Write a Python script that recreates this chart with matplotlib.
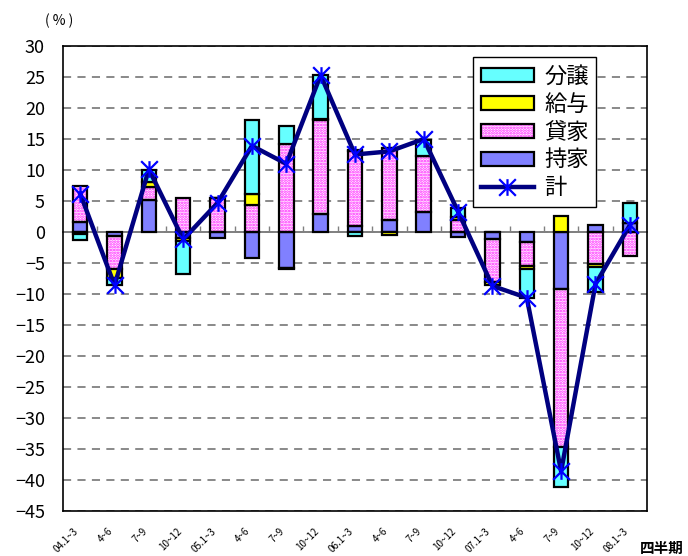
import numpy as np
import matplotlib
matplotlib.use('Agg')
import matplotlib.pyplot as plt
import matplotlib.patches as mpatches
from matplotlib.lines import Line2D
from matplotlib.path import Path
from matplotlib.transforms import offset_copy, blended_transform_factory

plt.rcParams['font.family'] = ['Noto Sans CJK JP', 'DejaVu Sans']
plt.rcParams['hatch.linewidth'] = 1.3

quarters = ["04.1~3", "4~6", "7~9", "10~12",
            "05.1~3", "4~6", "7~9", "10~12",
            "06.1~3", "4~6", "7~9", "10~12",
            "07.1~3", "4~6", "7~9", "10~12",
            "08.1~3"]
mochiie = [1.6, -0.6, 5.2, -0.9, -0.9, -4.2, -5.8, 2.9, 1.0, 2.0, 3.3, -0.8, -1.1, -1.6, -9.2, 1.2, 1.4]
kashiya = [5.8, -5.4, 2.0, 5.5, 5.5, 4.4, 14.2, 15.1, 12.1, 11.5, 8.9, 2.0, -7.0, -3.9, -25.4, -5.1, -3.9]
kyuyo = [-0.3, -1.5, 0.8, -0.6, 0.0, 1.7, -0.2, 0.2, 0.1, -0.5, 0.0, 0.4, -0.4, -0.5, 2.6, -0.5, 0.1]
bunjo = [-1.0, -1.1, 2.0, -5.2, 0.0, 12.0, 2.9, 7.1, -0.6, 0.0, 2.7, 1.5, 0.0, -4.6, -6.5, -4.1, 3.2]
total = [6.2, -8.6, 10.1, -1.2, 4.7, 13.9, 11.0, 25.3, 12.5, 13.0, 15.0, 3.3, -8.7, -10.6, -38.6, -8.4, 1.1]
yticks = list(range(-45, 31, 5))

fig = plt.figure(figsize=(6.88, 5.56), dpi=100)
ax = fig.add_axes([63/688, 1-511/556, 584/688, 465/556])
ax.set_xlim(-0.5, len(quarters) - 0.5)
ax.set_ylim(-45, 30)

x = np.arange(len(quarters))
width = 0.42
edge_lw = 1.6

series = [
    (mochiie, '持家', '#8080FF', None),
    (kashiya, '貸家', '#FFF4FF', '......'),
    (kyuyo, '給与', '#FFFF00', None),
    (bunjo, '分譲', '#66FFFF', None),
]
pos_base = np.zeros(len(x))
neg_base = np.zeros(len(x))
legend_handles = {}
for vals, name, color, hatch in series:
    v = np.array(vals, dtype=float)
    bottom = np.where(v >= 0, pos_base, neg_base)
    if hatch:
        ax.bar(x, v, width, bottom=bottom, color=color, edgecolor='#FF22FF',
               hatch=hatch, linewidth=0, zorder=2)
        ax.bar(x, v, width, bottom=bottom, fill=False, edgecolor='black',
               linewidth=edge_lw, zorder=3)
        h1 = mpatches.Patch(facecolor=color, edgecolor='#FF22FF', hatch=hatch, linewidth=0)
        h2 = mpatches.Patch(fill=False, edgecolor='black', linewidth=edge_lw)
        legend_handles[name] = (h1, h2)
    else:
        ax.bar(x, v, width, bottom=bottom, color=color, edgecolor='black',
               linewidth=edge_lw, zorder=3)
        legend_handles[name] = mpatches.Patch(facecolor=color, edgecolor='black', linewidth=edge_lw)
    pos_base += np.where(v > 0, v, 0)
    neg_base += np.where(v < 0, v, 0)

star = Path([(0, -1), (0, 1), (-1, -1), (1, 1), (-1, 1), (1, -1)],
            [Path.MOVETO, Path.LINETO, Path.MOVETO, Path.LINETO, Path.MOVETO, Path.LINETO])
ax.plot(x, total, color='#000080', lw=3.2, marker=star, markersize=12,
        markeredgecolor='#0000FF', markeredgewidth=1.6, zorder=5, clip_on=False)
legend_handles['計'] = Line2D([], [], color='#000080', lw=3.2, marker=star, markersize=12,
                             markeredgecolor='#0000FF', markeredgewidth=1.6)

# grid
ax.set_yticks(yticks)
ax.yaxis.grid(True, linestyle=(0, (4.5, 3.5)), color='#808080', lw=1.3)
ax.set_axisbelow(True)
ax.tick_params(axis='y', length=0, pad=13, labelsize=13)
ax.set_xticks([])
for s in ax.spines.values():
    s.set_color('black')
    s.set_linewidth(1.2)

# zero line with category ticks
ymin, ymax = ax.get_ylim()
sec = ax.secondary_xaxis((0 - ymin) / (ymax - ymin))
sec.set_xticks(np.arange(0.5, len(quarters) - 1, 1))
sec.tick_params(direction='out', length=4, width=1, colors='#808080',
                labeltop=False, labelbottom=False)
for s in sec.spines.values():
    s.set_color('#808080')
    s.set_linewidth(1.4)

# category labels
trans = offset_copy(blended_transform_factory(ax.transData, ax.transAxes), fig,
                    x=-7, y=-15, units='dots')
for i, q in enumerate(quarters):
    ax.text(i, 0, q, transform=trans, rotation=45, ha='right', va='top',
            rotation_mode='anchor', fontsize=7)

fig.text(662/688, 1-548/556, '四半期', ha='center', va='center', fontsize=10.5, weight='bold')
fig.text(59/688, 1-21/556, '( % )', ha='center', va='center', fontsize=10)

order = ['分譲', '給与', '貸家', '持家', '計']
leg = fig.legend([legend_handles[k] for k in order], order,
                 loc='upper left', bbox_to_anchor=(473/688, 1-57/556),
                 bbox_transform=fig.transFigure, borderaxespad=0,
                 fontsize=16, handlelength=2.4, handleheight=0.6,
                 handletextpad=0.45, labelspacing=0.22, borderpad=0.35,
                 fancybox=False, framealpha=1, edgecolor='black')
leg.get_frame().set_linewidth(1.0)

fig.savefig('out.png', dpi=100)
